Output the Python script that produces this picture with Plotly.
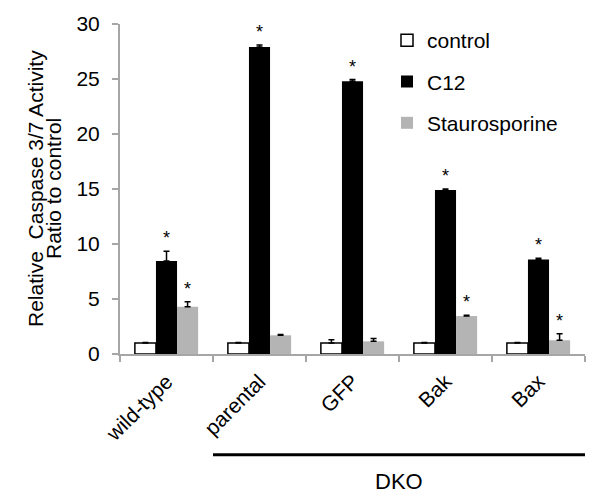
import plotly.graph_objects as go

categories = ["wild-type", "parental", "GFP", "Bak", "Bax"]
control = [1.0, 1.0, 1.0, 1.0, 1.0]
control_err = [0.05, 0.05, 0.3, 0.05, 0.05]
c12 = [8.45, 27.9, 24.8, 14.9, 8.6]
c12_err = [0.9, 0.2, 0.15, 0.1, 0.1]
stauro = [4.3, 1.7, 1.15, 3.45, 1.25]
stauro_err = [0.45, 0.08, 0.25, 0.08, 0.6]
c12_sig = [True, True, True, True, True]
stauro_sig = [True, False, False, True, True]
group_label = "DKO"
ytitle_lines = ["Relative  Caspase 3/7 Activity", "Ratio to control"]

FONT = "Arial, Liberation Sans, sans-serif"
OFF = 8  # page body margin
W, H = 601 - OFF, 501 - OFF
ML, MR, MT, MB = 120 - OFF, 16, 12, 147
BARGAP = 0.32
plot_w = W - ML - MR
plot_h = H - MT - MB
bar_px = plot_w / len(categories) * (1 - BARGAP) / 3


def px_x(px):
    return (px - OFF - ML) / plot_w


def px_y(py):
    return (H - MB - (py - OFF)) / plot_h


fig = go.Figure()
fig.add_trace(go.Bar(
    x=categories, y=control, name="control", legendgroup="a",
    marker=dict(color="white", line=dict(color="black", width=1.5)),
    error_y=dict(type="data", array=control_err, symmetric=False,
                 arrayminus=[0] * 5, color="black", thickness=1.5, width=3),
))
fig.add_trace(go.Bar(
    x=categories, y=c12, name="C12", legendgroup="b",
    marker=dict(color="black", line=dict(color="black", width=0)),
    error_y=dict(type="data", array=c12_err, symmetric=False,
                 arrayminus=[0] * 5, color="black", thickness=1.5, width=3),
))
fig.add_trace(go.Bar(
    x=categories, y=stauro, name="Staurosporine", legendgroup="c",
    marker=dict(color="#b4b4b4", line=dict(color="#b4b4b4", width=0)),
    error_y=dict(type="data", array=stauro_err, symmetric=False,
                 arrayminus=[0] * 5, color="black", thickness=1.5, width=3),
))

annotations = []
for i, cat in enumerate(categories):
    if c12_sig[i]:
        annotations.append(dict(x=cat, y=c12[i] + c12_err[i], xref="x", yref="y",
                                text="*", showarrow=False, xshift=0, yshift=1,
                                yanchor="bottom", font=dict(family=FONT, size=18, color="black")))
    if stauro_sig[i]:
        annotations.append(dict(x=cat, y=stauro[i] + stauro_err[i], xref="x", yref="y",
                                text="*", showarrow=False, xshift=bar_px, yshift=1,
                                yanchor="bottom", font=dict(family=FONT, size=18, color="black")))

annotations.append(dict(x=2.5, y=px_y(483), xref="x", yref="paper", text=group_label,
                        showarrow=False, font=dict(family=FONT, size=22, color="black"),
                        yanchor="middle"))
for txt, cx in zip(ytitle_lines, [35, 53]):
    annotations.append(dict(x=px_x(cx), y=px_y(187), xref="paper", yref="paper", text=txt,
                            textangle=-90, showarrow=False, xanchor="center", yanchor="middle",
                            font=dict(family=FONT, size=21, color="black")))

fig.update_layout(
    width=W, height=H,
    margin=dict(l=ML, r=MR, t=MT, b=MB),
    paper_bgcolor="white", plot_bgcolor="white",
    barmode="group", bargap=BARGAP, bargroupgap=0,
    font=dict(family=FONT, color="black"),
    showlegend=True,
    legend=dict(x=px_x(387), y=px_y(16), xanchor="left", yanchor="top",
                font=dict(family=FONT, size=21, color="black"),
                tracegroupgap=11, bgcolor="rgba(0,0,0,0)", itemwidth=30),
    xaxis=dict(type="category", range=[-0.5, 4.5], showline=True, linecolor="#a6a6a6",
               linewidth=2, ticks="outside", tickson="boundaries", ticklen=6,
               tickcolor="#a6a6a6", tickwidth=2, tickangle=-45, automargin=False,
               ticklabelstandoff=5,
               tickfont=dict(family=FONT, size=21, color="black"), showgrid=False,
               zeroline=False),
    yaxis=dict(range=[0, 30], dtick=5, showline=True, linecolor="#a6a6a6", linewidth=2,
               ticks="outside", ticklen=6, tickcolor="#a6a6a6", tickwidth=2, automargin=False,
               ticklabelstandoff=8, ticklabeloverflow="allow",
               tickfont=dict(family=FONT, size=21, color="black"), showgrid=False,
               zeroline=False),
    annotations=annotations,
    shapes=[dict(type="line", xref="x", yref="paper", x0=0.5, x1=4.5,
                 y0=px_y(456), y1=px_y(456), line=dict(color="black", width=3))],
)

fig.write_html("out.html")
